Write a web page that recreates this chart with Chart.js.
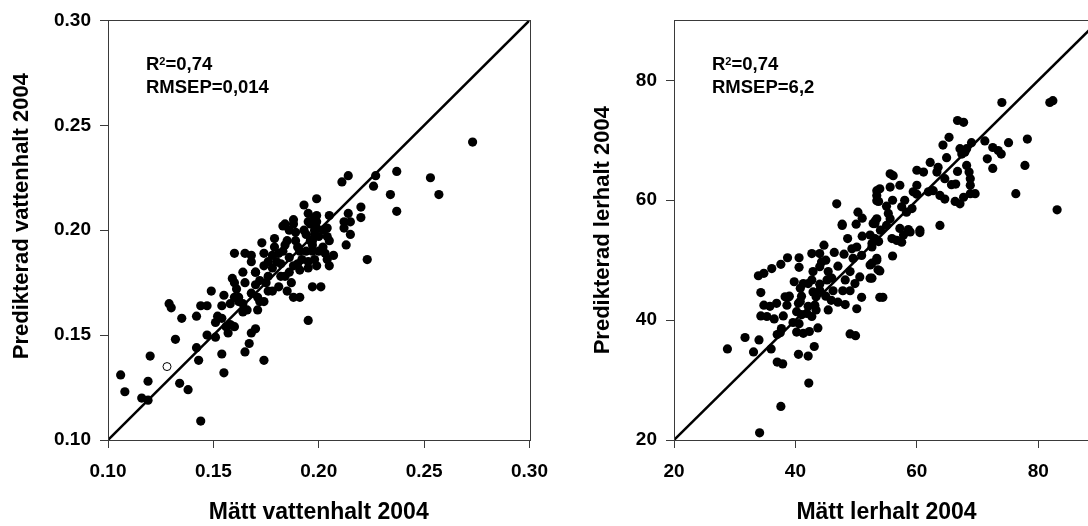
<!DOCTYPE html>
<html>
<head>
<meta charset="utf-8">
<script src="https://cdn.jsdelivr.net/npm/chart.js@4/dist/chart.umd.min.js"></script>
<style>
  html, body { margin: 0; padding: 0; background: #fff; overflow: hidden; width: 1088px; height: 526px; }
  canvas { position: absolute; top: 0; }
  #waterChart { left: 0; }
  #clayChart { left: 560px; }
</style>
</head>
<body>
<canvas id="waterChart" width="560" height="526"></canvas>
<canvas id="clayChart" width="560" height="526"></canvas>
<script>
// vattenhalt (left panel)
const waterMeasured = [
  0.106,0.108,0.116,0.119,0.119,0.120,0.129,0.130,0.132,0.134,
  0.135,0.138,0.142,0.142,0.143,0.144,0.144,0.147,0.147,0.149,
  0.151,0.152,0.154,0.151,0.154,0.155,0.154,0.155,0.156,0.157,
  0.158,0.160,0.159,0.160,0.161,0.160,0.162,0.164,0.164,0.160,
  0.164,0.165,0.168,0.168,0.170,0.170,0.171,0.172,0.165,0.167,
  0.168,0.170,0.174,0.171,0.174,0.173,0.174,0.176,0.175,0.176,
  0.179,0.179,0.181,0.182,0.181,0.184,0.183,0.186,0.188,0.188,
  0.191,0.187,0.184,0.195,0.197,0.189,0.191,0.194,0.197,0.195,
  0.190,0.195,0.199,0.193,0.199,0.184,0.195,0.198,0.273,0.253,
  0.257,0.237,0.237,0.234,0.227,0.226,0.220,0.220,0.214,0.211,
  0.214,0.212,0.215,0.212,0.205,0.199,0.199,0.196,0.202,0.198,
  0.223,0.213,0.215,0.201,0.195,0.199,0.205,0.202,0.203,0.204,
  0.197,0.197,0.198,0.204,0.204,
  0.180,0.183,0.186,0.188,0.190,0.192,0.185,0.178,0.176,0.172,
  0.174,0.194,0.196,0.189,0.186,0.182,0.191,0.198,0.200,0.193,
  0.168,0.165,0.170,0.178,0.188,0.196,0.200,0.205,0.207,0.185,
  0.178,0.162,0.158,0.166
];
const waterPredicted = [
  0.131,0.123,0.120,0.119,0.128,0.140,0.165,0.163,0.148,0.127,
  0.158,0.124,0.159,0.144,0.138,0.109,0.164,0.150,0.164,0.171,
  0.156,0.159,0.158,0.149,0.141,0.132,0.164,0.169,0.154,0.151,
  0.155,0.154,0.177,0.175,0.172,0.168,0.166,0.165,0.161,0.189,
  0.180,0.189,0.188,0.185,0.180,0.174,0.168,0.166,0.142,0.146,
  0.151,0.153,0.138,0.162,0.166,0.194,0.189,0.185,0.175,0.171,
  0.196,0.192,0.189,0.184,0.173,0.193,0.202,0.200,0.203,0.168,
  0.168,0.175,0.178,0.157,0.173,0.195,0.190,0.198,0.195,0.185,
  0.184,0.204,0.201,0.212,0.215,0.203,0.208,0.206,0.242,0.225,
  0.217,0.228,0.209,0.217,0.226,0.221,0.211,0.206,0.226,0.223,
  0.208,0.204,0.204,0.201,0.207,0.207,0.204,0.204,0.200,0.200,
  0.186,0.193,0.198,0.173,0.182,0.183,0.183,0.192,0.189,0.186,
  0.190,0.193,0.198,0.197,0.201,
  0.185,0.190,0.187,0.183,0.192,0.186,0.195,0.182,0.178,0.176,
  0.183,0.190,0.195,0.199,0.180,0.178,0.181,0.186,0.190,0.200,
  0.170,0.175,0.180,0.188,0.205,0.203,0.197,0.195,0.188,0.171,
  0.171,0.168,0.165,0.162
];
const waterOpenMeasured = [0.128];
const waterOpenPredicted = [0.135];
const waterTicks = [0.10, 0.15, 0.20, 0.25, 0.30];
const waterRange = [0.10, 0.30];
const waterStats = ['0,74', '0,014'];

// lerhalt (right panel)
const clayMeasured = [
  34.1,37.6,42.2,37.0,37.9,40.5,42.1,43.1,28.8,31.7,
  33.1,34.0,36.0,37.0,37.7,37.5,40.2,41.3,42.3,43.7,
  39.6,40.6,34.3,35.3,36.5,38.0,34.8,35.8,36.9,38.6,
  38.8,38.3,34.3,40.2,41.0,41.9,42.7,43.4,42.1,40.8,
  40.5,39.8,40.8,41.3,42.1,42.9,43.4,43.2,33.9,34.8,
  36.1,37.6,38.7,40.6,40.6,42.7,44.0,44.7,44.3,44.0,
  45.4,45.2,42.9,42.7,45.4,45.9,46.2,46.4,47.8,49.0,
  48.2,50.1,50.9,49.0,49.9,47.7,48.6,49.3,50.1,50.9,
  49.5,48.2,49.0,49.8,50.6,52.3,53.9,52.3,53.1,52.6,
  53.4,52.3,53.6,52.8,46.8,50.3,47.7,53.4,53.4,53.1,
  74.0,81.9,82.4,83.1,78.2,77.8,76.3,75.1,72.5,73.4,
  73.9,71.6,72.5,71.2,66.7,67.7,69.0,65.3,64.3,67.1,
  67.9,67.4,68.2,64.9,62.2,63.5,63.3,66.7,68.2,68.6,
  68.8,68.8,60.0,61.1,55.6,56.1,64.6,65.7,66.4,68.8,
  69.6,63.8,64.6,66.3,67.1,67.7,61.9,62.7,60.0,59.4,
  57.2,55.6,53.9,53.4,53.7,57.5,59.2,58.3,55.3,55.6,
  53.4,53.1,55.0,57.2,58.6,60.5,63.8,60.5,58.9,57.8,
  57.5,56.7,55.9,52.6,53.7,53.4,52.6,53.9,52.6,56.0,
  54.4,
  44,46,47,45,48,51,54,50,51,55,56,58,60,45,47,39,41,44
];
const clayPredicted = [
  21.2,25.6,29.5,33.0,32.7,34.3,34.0,35.6,35.2,37.1,
  34.7,36.7,35.2,37.6,38.6,37.9,38.0,37.8,38.1,38.7,
  39.6,39.4,40.7,40.6,40.2,40.7,42.5,42.3,42.8,42.5,
  43.8,43.9,44.6,41.4,40.9,41.1,40.6,41.7,42.3,43.1,
  42.8,46.4,45.3,46.1,46.1,44.7,43.9,42.5,47.4,47.8,
  48.6,49.3,50.4,50.4,48.8,51.1,51.1,52.5,49.7,48.9,
  48.1,46.7,48.1,46.7,41.7,43.3,44.9,51.3,44.9,44.9,
  42.6,41.9,43.8,37.7,37.4,55.8,53.6,51.9,52.2,50.8,
  50.3,46.7,48.1,46.1,47.2,47.0,43.8,54.2,53.6,52.2,
  50.3,49.2,48.4,56.1,59.4,58.0,56.0,61.6,59.9,56.5,
  76.3,76.3,76.6,58.4,70.2,65.8,61.1,69.6,68.8,68.3,
  67.7,66.9,65.3,69.9,73.3,73.0,69.6,70.5,69.2,68.6,
  68.0,67.7,68.6,67.1,66.3,65.5,64.7,64.8,65.8,64.7,
  63.6,62.5,65.0,64.7,64.4,64.1,63.6,62.6,62.7,61.1,
  61.1,60.8,60.2,59.8,59.4,60.5,61.4,61.6,62.5,61.4,
  62.5,62.2,61.9,60.8,59.8,58.9,58.6,58.0,57.8,56.9,
  56.9,56.1,55.8,55.3,55.1,55.0,55.8,54.6,54.7,54.2,
  53.0,53.3,53.6,52.8,53.1,50.0,49.5,48.2,47.0,50.7,
  43.8,
  45,47,49,50,51,54,55,56,57,59,60,60,61,44,43,44,44,46
];
const clayTicks = [20, 40, 60, 80];
const clayRange = [20, 90];
const clayStats = ['0,74', '6,2'];

const FONT = '"Liberation Sans", Arial, Helvetica, sans-serif';
const AXIS = '#3a3a3a';

function toPoints(xs, ys) {
    return xs.map((x, i) => ({ x: x, y: ys[i] }));
}

// frame round the plot area, y title and the R2 / RMSEP text
function panelPlugin(cfg) {
    return {
        id: 'panel',
        afterDraw(chart) {
            const ctx = chart.ctx;
            const a = chart.chartArea;
            ctx.save();
            ctx.strokeStyle = AXIS;
            ctx.lineWidth = 1;
            ctx.strokeRect(Math.round(a.left) + 0.5, Math.round(a.top) + 0.5,
                Math.round(a.right - a.left), Math.round(a.bottom - a.top));

            // rotated y axis title
            ctx.save();
            ctx.translate(cfg.yTitleX, (a.top + a.bottom) / 2 + cfg.yTitleShift);
            ctx.rotate(-Math.PI / 2);
            ctx.font = 'bold 22px ' + FONT;
            ctx.fillStyle = '#000';
            ctx.textAlign = 'center';
            ctx.textBaseline = 'middle';
            ctx.fillText(cfg.yTitle, 0, 0);
            ctx.restore();

            const x = a.left + 38;
            ctx.fillStyle = '#000';
            ctx.textBaseline = 'alphabetic';
            ctx.textAlign = 'left';
            ctx.font = 'bold 18.5px ' + FONT;
            ctx.fillText('R', x, 70);
            const wR = ctx.measureText('R').width;
            ctx.font = 'bold 11px ' + FONT;
            ctx.fillText('2', x + wR, 65);
            const w2 = ctx.measureText('2').width;
            ctx.font = 'bold 18.5px ' + FONT;
            ctx.fillText('=' + cfg.stats[0], x + wR + w2, 70);
            ctx.fillText('RMSEP=' + cfg.stats[1], x, 93);
            ctx.restore();
        }
    };
}

function makeChart(id, cfg) {
    const ctx = document.getElementById(id).getContext('2d');
    const datasets = [
        {
            type: 'scatter',
            data: toPoints(cfg.xs, cfg.ys),
            pointRadius: 4.6,
            pointBackgroundColor: '#000',
            pointBorderWidth: 0,
            order: 2
        },
        {
            type: 'line',
            data: toPoints(cfg.range, cfg.range),
            borderColor: '#000',
            borderWidth: 2.5,
            pointRadius: 0,
            fill: false,
            order: 1
        }
    ];
    if (cfg.openXs) {
        datasets.push({
            type: 'scatter',
            data: toPoints(cfg.openXs, cfg.openYs),
            pointRadius: 4,
            pointBackgroundColor: '#fff',
            pointBorderColor: '#000',
            pointBorderWidth: 1,
            order: 0
        });
    }
    const tickFont = { family: FONT, size: 19, weight: 'bold' };
    const titleFont = { family: FONT, size: 23, weight: 'bold' };
    return new Chart(ctx, {
        type: 'scatter',
        data: { datasets: datasets },
        options: {
            responsive: false,
            animation: false,
            events: [],
            layout: { padding: { top: 18, right: cfg.padRight, left: 0, bottom: 0 } },
            plugins: { legend: { display: false }, tooltip: { enabled: false } },
            scales: {
                x: {
                    type: 'linear',
                    min: cfg.range[0],
                    max: cfg.range[1],
                    afterBuildTicks: s => { s.ticks = cfg.ticks.map(v => ({ value: v })); },
                    afterFit: s => { s.height = 86; },
                    border: { display: false },
                    grid: { drawOnChartArea: false, drawTicks: true, tickLength: 8, color: AXIS, tickColor: AXIS },
                    ticks: { color: '#000', font: tickFont, padding: 12, maxRotation: 0, autoSkip: false,
                             callback: cfg.fmt },
                    title: { display: true, text: cfg.xTitle, color: '#000', font: titleFont, padding: { top: 0, bottom: 0 } }
                },
                y: {
                    type: 'linear',
                    min: cfg.range[0],
                    max: cfg.range[1],
                    afterBuildTicks: s => { s.ticks = cfg.ticks.map(v => ({ value: v })); },
                    afterFit: s => { s.width = cfg.yWidth; },
                    border: { display: false },
                    grid: { drawOnChartArea: false, drawTicks: true, tickLength: 8, color: AXIS, tickColor: AXIS },
                    ticks: { color: '#000', font: tickFont, padding: 9, autoSkip: false, callback: cfg.fmt },
                    title: { display: false }
                }
            }
        },
        plugins: [panelPlugin(cfg)]
    });
}

document.addEventListener('DOMContentLoaded', function () {
    makeChart('waterChart', {
        xs: waterMeasured, ys: waterPredicted,
        openXs: waterOpenMeasured, openYs: waterOpenPredicted,
        range: waterRange, ticks: waterTicks, stats: waterStats,
        fmt: v => Number(v).toFixed(2),
        xTitle: 'Mätt vattenhalt 2004', yTitle: 'Predikterad vattenhalt 2004',
        yWidth: 108, padRight: 27, yTitleX: 22, yTitleShift: -14
    });
    makeChart('clayChart', {
        xs: clayMeasured, ys: clayPredicted,
        range: clayRange, ticks: clayTicks, stats: clayStats,
        fmt: v => String(v),
        xTitle: 'Mätt lerhalt 2004', yTitle: 'Predikterad lerhalt 2004',
        yWidth: 114, padRight: 21, yTitleX: 43, yTitleShift: 0
    });
});
</script>
</body>
</html>
